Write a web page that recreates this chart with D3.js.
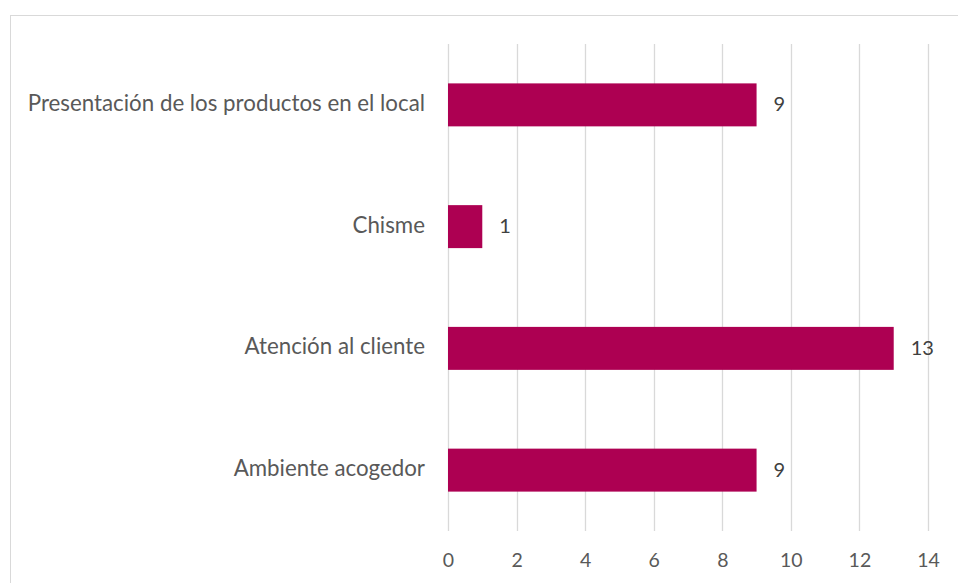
<!DOCTYPE html>
<html>
<head>
<meta charset="utf-8">
<script src="https://cdn.jsdelivr.net/npm/d3@7"></script>
<style>
  html, body { margin: 0; padding: 0; background: #fff; }
  svg { display: block; }
</style>
</head>
<body>
<svg id="chart" width="958" height="583"></svg>
<script>
// Categories listed top to bottom, with their counts
const categories = [
  "Presentación de los productos en el local",
  "Chisme",
  "Atención al cliente",
  "Ambiente acogedor"
];
const values = [9, 1, 13, 9];
const xTicks = [0, 2, 4, 6, 8, 10, 12, 14];

const svg = d3.select("#chart");
const font = "Lato, 'Open Sans', sans-serif";

// Outer chart frame
svg.append("rect")
  .attr("x", 10.5).attr("y", 15.5)
  .attr("width", 1000).attr("height", 1000)
  .attr("fill", "#fff")
  .attr("stroke", "#d9d9d9").attr("stroke-width", 1);

const plot = { left: 448, right: 928, top: 44, bottom: 531 };

const x = d3.scaleLinear().domain([0, 14]).range([plot.left, plot.right]);
const y = d3.scaleBand().domain(categories)
  .range([plot.top, plot.bottom])
  .paddingInner(0.647).paddingOuter(0.3235);

// Vertical gridlines
svg.append("g").selectAll("line")
  .data(xTicks).join("line")
  .attr("x1", d => Math.round(x(d)) + 0.5).attr("x2", d => Math.round(x(d)) + 0.5)
  .attr("y1", plot.top).attr("y2", plot.bottom)
  .attr("stroke", "#d9d9d9").attr("stroke-width", 1.3);

// Bars
svg.append("g").selectAll("rect")
  .data(categories).join("rect")
  .attr("x", x(0))
  .attr("y", d => y(d))
  .attr("width", (d, i) => x(values[i]) - x(0))
  .attr("height", y.bandwidth())
  .attr("fill", "#ad0052");

// Value labels
svg.append("g").selectAll("text")
  .data(categories).join("text")
  .attr("x", (d, i) => x(values[i]) + 17)
  .attr("y", d => y(d) + y.bandwidth() / 2)
  .attr("dy", "0.33em")
  .attr("font-family", font).attr("font-size", 20)
  .attr("fill", "#404040")
  .text((d, i) => values[i]);

// Category axis labels
svg.append("g").selectAll("text")
  .data(categories).join("text")
  .attr("x", plot.left - 23)
  .attr("y", d => y(d) + y.bandwidth() / 2)
  .attr("dy", "0.27em")
  .attr("text-anchor", "end")
  .attr("font-family", font).attr("font-size", 22.3)
  .attr("fill", "#595959")
  .text(d => d);

// Value axis tick labels
const xAxis = d3.axisBottom(x).tickValues(xTicks).tickSize(0).tickPadding(0);
const gx = svg.append("g").attr("transform", `translate(0, ${plot.bottom})`).call(xAxis);
gx.select(".domain").remove();
gx.selectAll("text")
  .attr("y", 36).attr("dy", "0")
  .attr("font-family", font).attr("font-size", 19.5)
  .attr("fill", "#595959");
</script>
</body>
</html>
